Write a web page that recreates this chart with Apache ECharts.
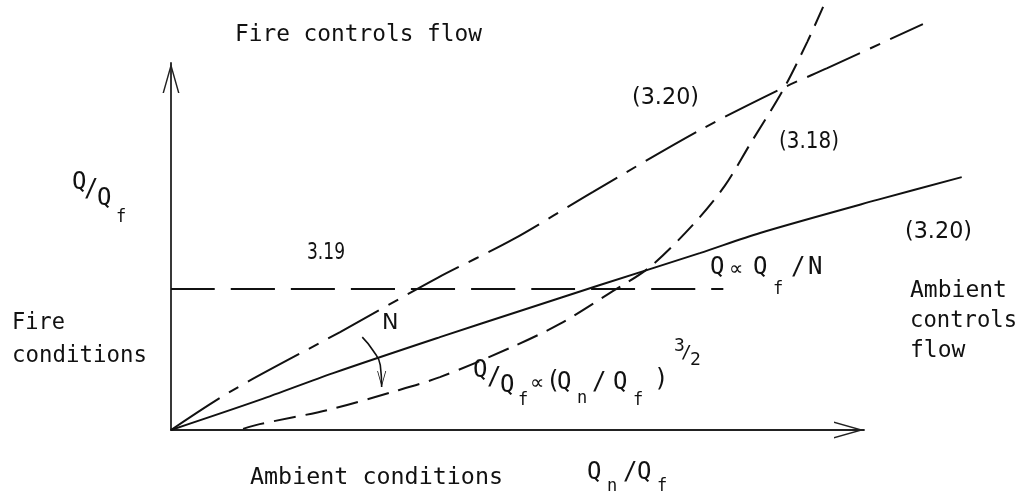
<!DOCTYPE html>
<html>
<head>
<meta charset="utf-8">
<script src="https://cdn.jsdelivr.net/npm/echarts@6/dist/echarts.min.js"></script>
<style>
  html, body { margin: 0; background: #fff; }
  #chart { width: 1024px; height: 503px; }
</style>
</head>
<body>
<div id="chart"></div>
<script>
// x = Qn/Qf, y = Q/Qf (schematic units, drawn axes run 0..10)
const eq320Upper = [[0, 0], [0.85, 1.04], [2.44, 2.67], [3.84, 4.14], [4.94, 5.2], [6.09, 6.49], [7.63, 8.17], [8.83, 9.32], [9.47, 9.86], [10.85, 11.06]];
const eq320Lower = [[0, 0], [1.28, 0.82], [2.34, 1.55], [3.88, 2.53], [5.08, 3.27], [6.19, 3.95], [7.63, 4.82], [8.5, 5.37], [10.19, 6.27], [11.41, 6.89]];
const eq318 = [[1.04, 0.03], [1.28, 0.16], [2.25, 0.54], [3.2, 1.04], [3.88, 1.44], [4.92, 2.26], [5.61, 2.89], [6.33, 3.73], [6.91, 4.44], [7.53, 5.59], [7.99, 6.65], [8.35, 7.77], [8.83, 9.26], [9.18, 10.57], [9.41, 11.53]];
const eq319 = [[0, 3.84], [7.97, 3.84]];
const nArrow = [[2.76, 2.53], [2.91, 2.18], [3.02, 1.77], [3.04, 1.17]];

const MONO = "'DejaVu Sans Mono', monospace";
const SANS = "'DejaVu Sans', sans-serif";
const INK = '#111';
// open arrow heads
const ARROW_UP = 'path://M0,30L8.5,0L17,30L15.5,30L8.5,5.3L1.5,30Z';
const ARROW_DOWN = 'path://M0,0L8.5,30L17,0L15.5,0L8.5,24.7L1.5,0Z';

// px per unit: x 69.3, y 36.7 ; origin at (171, 430)
const PX_X = 69.3, PX_Y = 36.7, ORIGIN_X = 171, ORIGIN_Y = 430;
const DATA_XMAX = 12, DATA_YMAX = 11.7;

// text pieces: text, left, right (0 = no fit), middle y, size, family
const labels = [
  ['Fire controls flow', 235, 482, 35, 23, MONO],
  ['Fire', 12, 65, 323, 23, MONO],
  ['conditions', 12, 147, 356, 23, MONO],
  ['Ambient', 910, 0, 291, 23, MONO],
  ['controls', 910, 1017, 321, 23, MONO],
  ['flow', 910, 0, 351, 23, MONO],
  ['Ambient conditions', 250, 503, 478, 23, MONO],
  ['3.19', 307, 345, 253, 23, SANS],
  ['(3.20)', 632, 699, 98, 23, SANS],
  ['(3.18)', 779, 839, 142, 23, SANS],
  ['(3.20)', 905, 972, 232, 23, SANS],
  ['N', 382, 0, 323, 22, SANS],
  // Q/Qf axis name
  ['Q', 72, 0, 183, 24, MONO], ['/', 84, 0, 190, 24, MONO], ['Q', 97, 0, 199, 24, MONO], ['f', 116, 0, 218, 17, MONO],
  // Q ~ Qf/N
  ['Q', 710, 0, 268, 24, MONO], ['\u221D', 729, 0, 270, 20, SANS], ['Q', 753, 0, 268, 24, MONO], ['f', 773, 0, 290, 17, MONO],
  ['/', 791, 0, 268, 24, MONO], ['N', 808, 0, 268, 24, MONO],
  // Q/Qf ~ (Qn/Qf)^3/2
  ['Q', 473, 0, 371, 24, MONO], ['/', 487, 0, 378, 24, MONO], ['Q', 500, 0, 386, 24, MONO], ['f', 518, 0, 401, 17, MONO],
  ['\u221D', 530, 0, 384, 20, SANS], ['(', 546, 0, 382, 24, MONO], ['Q', 557, 0, 383, 24, MONO], ['n', 577, 0, 399, 17, MONO],
  ['/', 592, 0, 383, 24, MONO], ['Q', 613, 0, 383, 24, MONO], ['f', 633, 0, 401, 17, MONO], [')', 654, 0, 380, 24, MONO],
  ['3', 674, 0, 346, 18, MONO], ['/', 681, 0, 353, 18, MONO], ['2', 690, 0, 360, 18, MONO],
  // Qn/Qf axis name
  ['Q', 587, 0, 473, 24, MONO], ['n', 607, 0, 487, 17, MONO], ['/', 623, 0, 473, 24, MONO], ['Q', 637, 0, 473, 24, MONO], ['f', 657, 0, 487, 17, MONO]
];

const ctx = document.createElement('canvas').getContext('2d');
function textEl(item) {
  const [s, left, right, y, size, family] = item;
  const font = size + 'px ' + family;
  ctx.font = font;
  const w = ctx.measureText(s).width;
  return {
    type: 'text', x: left, y: y, scaleX: right ? (right - left) / w : 1, silent: true,
    style: { text: s, font: font, fill: INK, textAlign: 'left', textVerticalAlign: 'middle' }
  };
}

function curve(data, type) {
  return {
    type: 'line', xAxisIndex: 1, yAxisIndex: 1, data: data, smooth: 0.3, showSymbol: false, silent: true,
    lineStyle: { color: INK, width: 2, type: type }
  };
}

// grid 0 only carries the drawn axes with arrow heads
function drawnAxis() {
  return {
    type: 'value', gridIndex: 0, min: 0, max: 10,
    axisLine: {
      show: true, onZero: false, symbol: ['none', ARROW_UP], symbolSize: [17, 30], symbolOffset: [0, -15],
      lineStyle: { color: '#222', width: 1.8 }
    },
    axisTick: { show: false }, axisLabel: { show: false }, splitLine: { show: false }
  };
}
// grid 1 is the same scale, larger so curves can run past the arrows
function dataAxis(max) {
  return { type: 'value', gridIndex: 1, min: 0, max: max, show: false };
}

const arrowSeries = {
  type: 'line', xAxisIndex: 1, yAxisIndex: 1, smooth: 0.5, silent: true, symbol: 'none', showSymbol: true,
  lineStyle: { color: INK, width: 1.6 },
  itemStyle: { color: INK },
  data: nArrow.map(function (p, i) {
    return i === nArrow.length - 1
      ? { value: p, symbol: ARROW_DOWN, symbolSize: [9, 16], symbolOffset: [0, -8] }
      : { value: p };
  })
};

const chart = echarts.init(document.getElementById('chart'));
chart.setOption({
  animation: false,
  backgroundColor: '#fff',
  grid: [
    { left: ORIGIN_X, top: ORIGIN_Y - 10 * PX_Y, width: 10 * PX_X, height: 10 * PX_Y, outerBoundsMode: 'none' },
    { left: ORIGIN_X, top: ORIGIN_Y - DATA_YMAX * PX_Y, width: DATA_XMAX * PX_X, height: DATA_YMAX * PX_Y, outerBoundsMode: 'none' }
  ],
  xAxis: [drawnAxis(), dataAxis(DATA_XMAX)],
  yAxis: [drawnAxis(), dataAxis(DATA_YMAX)],
  series: [
    curve(eq320Upper, [58, 11, 11, 11]),
    curve(eq320Lower, 'solid'),
    curve(eq318, [22, 10]),
    curve(eq319, [44, 16]),
    arrowSeries
  ],
  graphic: labels.map(textEl)
});
</script>
</body>
</html>
